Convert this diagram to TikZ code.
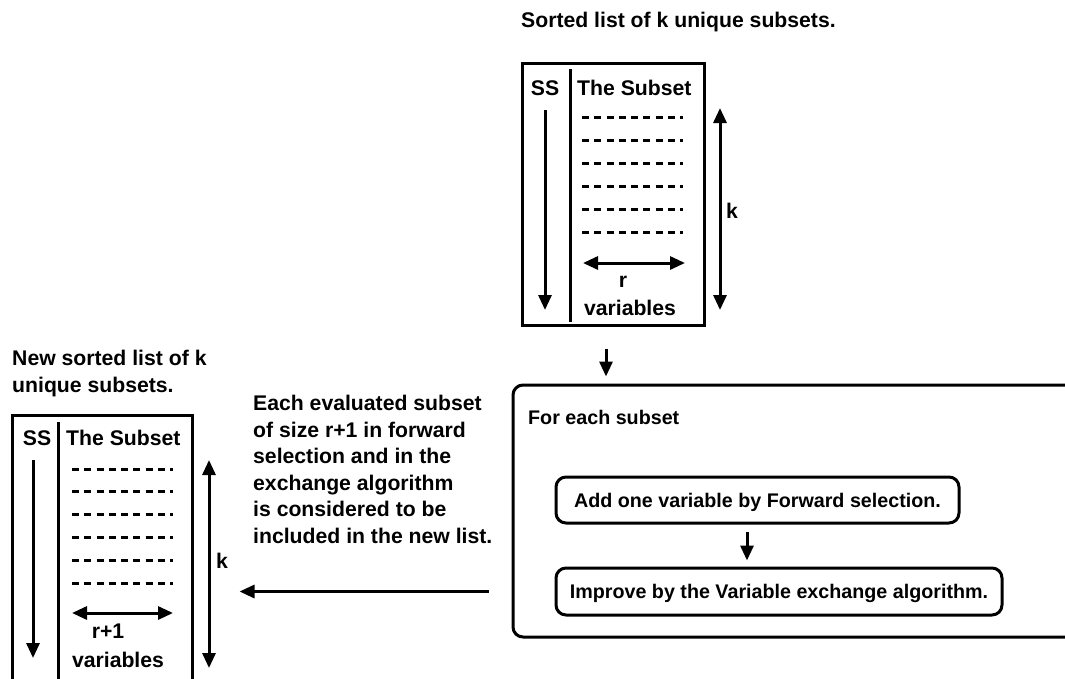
\documentclass[tikz,border=0pt]{standalone}
\usepackage{fontspec}
\setmainfont{Liberation Sans}
\usetikzlibrary{arrows.meta}
\begin{document}
\begin{tikzpicture}[x=1pt,y=-1pt,
  lw/.style={line width=3pt},
  arr/.style={lw,-{Triangle[length=15pt,width=13pt]}},
  darr/.style={lw,{Triangle[length=15pt,width=13pt]}-{Triangle[length=15pt,width=13pt]}},
  dashline/.style={line width=3pt, dash pattern=on 7pt off 5.25pt},
  txt/.style={font=\fontsize{21.2}{26.6}\selectfont\bfseries, inner sep=0pt},
  btxt/.style={font=\fontsize{19.7}{24}\selectfont\bfseries, inner sep=0pt},
  listbox/.style={draw, lw, inner sep=0pt},
  stepbox/.style={draw, lw, rounded corners=10pt, inner sep=0pt, text height=14.1pt, text depth=0pt, btxt}
]
\useasboundingbox (0,0) rectangle (1065,678);
\clip (0,0) rectangle (1065,678);

% ---------- top list ----------
\node[txt, anchor=base west] (toptitle) at (521,27) {Sorted list of k unique subsets.};
\node[listbox, minimum width=182pt, minimum height=262pt] (topbox) at (613,194) {};
\draw[lw] (570,69) -- (570,322);
\node[txt, anchor=base] (topss) at (545,95) {SS};
\node[txt, anchor=base west] (topsub) at (577,95) {The Subset};
\coordinate (tssA) at (545,110);
\coordinate (tssB) at (545,310);
\draw[arr] (tssA) -- (tssB);
\foreach \yy in {117,140,163,186,209,232}
  \draw[dashline] (582,\yy) -- (683,\yy);
\coordinate (trA) at (583,263);
\coordinate (trB) at (685,263);
\draw[darr] (trA) -- (trB);
\node[txt, anchor=base] (topr) at (623,287) {r};
\node[txt, anchor=base] (topvar) at (630,315) {variables};
\coordinate (tkA) at (720,108);
\coordinate (tkB) at (720,310);
\draw[darr] (tkA) -- (tkB);
\node[txt, anchor=base] (topk) at (732,218) {k};

% ---------- process box ----------
\node[draw, lw, rounded corners=10pt, minimum width=570pt, minimum height=252pt, inner sep=0pt] (bigbox) at (798,511) {};
\node[btxt, anchor=base west] (foreach) at (528,424) {For each subset};
\node[stepbox, minimum width=403pt, minimum height=46pt] (box1) at (757.5,500) {Add one variable by Forward selection.};
\node[stepbox, minimum width=446pt, minimum height=47pt] (box2) at (779,591.5) {Improve by the Variable exchange algorithm.};

% ---------- middle text ----------
\node[txt, anchor=north west, align=left] (midtext) at (253,395) {Each evaluated subset\\of size r+1 in forward\\selection and in the\\exchange algorithm\\is considered to be\\included in the new list.};

% ---------- new list ----------
\node[txt, anchor=north west, align=left] (newtitle) at (12,350) {New sorted list of k\\unique subsets.};
\node[listbox, minimum width=180pt, minimum height=290pt] (leftbox) at (102,560) {};
\draw[lw] (58,422) -- (58,700);
\node[txt, anchor=base] (leftss) at (37,445) {SS};
\node[txt, anchor=base west] (leftsub) at (66,445) {The Subset};
\coordinate (lssA) at (33,460);
\coordinate (lssB) at (33,658);
\draw[arr] (lssA) -- (lssB);
\foreach \i in {0,...,5}
  \draw[dashline] (72,469+22.8*\i) -- (173,469+22.8*\i);
\coordinate (lrA) at (72,613);
\coordinate (lrB) at (173,613);
\draw[darr] (lrA) -- (lrB);
\node[txt, anchor=base] (leftr) at (108,638) {r+1};
\node[txt, anchor=base] (leftvar) at (118,667) {variables};
\coordinate (lkA) at (209,460);
\coordinate (lkB) at (209,668);
\draw[darr] (lkA) -- (lkB);
\node[txt, anchor=base] (leftk) at (222,568) {k};

% ---------- connectors ----------
\draw[arr, shorten <=22pt, shorten >=7pt] ([xshift=-7pt]topbox.south) -- ([xshift=-7pt]topbox.south |- bigbox.north);
\draw[arr, shorten <=7pt, shorten >=6pt] ([xshift=-10.5pt]box1.south) -- ([xshift=-10.5pt]box1.south |- box2.north);
\draw[arr, shorten <=23pt, shorten >=46pt] (bigbox.west |- box2.center) -- (leftbox.east |- box2.center);
\end{tikzpicture}
\end{document}
